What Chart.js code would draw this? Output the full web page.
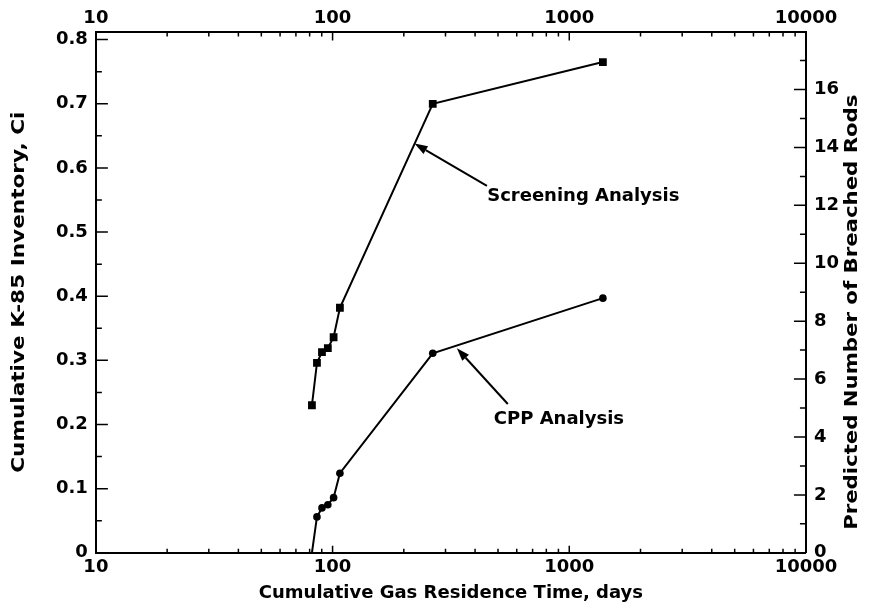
<!DOCTYPE html>
<html>
<head>
<meta charset="utf-8">
<script src="https://cdn.jsdelivr.net/npm/chart.js@4/dist/chart.umd.min.js"></script>
<style>
  html, body { margin: 0; padding: 0; background: #fff; }
  #wrap { width: 871px; height: 609px; }
</style>
</head>
<body>
<div id="wrap"><canvas id="c" width="871" height="609"></canvas></div>
<script>
// ---- data ----
const days = [81.8, 85.9, 90.2, 95.5, 101, 107.4, 265, 1387];
const screening = [0.230, 0.296, 0.313, 0.319, 0.336, 0.382, 0.700, 0.765];
const cpp = [0, 0.056, 0.070, 0.075, 0.086, 0.124, 0.311, 0.397];

const xTickLabels = [10, 100, 1000, 10000];
const leftTickLabels = [0, 0.1, 0.2, 0.3, 0.4, 0.5, 0.6, 0.7, 0.8];
const rightTickLabels = [0, 2, 4, 6, 8, 10, 12, 14, 16];

const xTitle = 'Cumulative Gas Residence Time, days';
const leftTitle = 'Cumulative K-85 Inventory, Ci';
const rightTitle = 'Predicted Number of Breached Rods';

// annotations (data coordinates)
const annScreen = { text: 'Screening Analysis', textAt: [450, 0.556], from: [449, 0.572], tip: [222, 0.638] };
const annCpp = { text: 'CPP Analysis', textAt: [480, 0.208], from: [550, 0.232], tip: [335, 0.319] };

const FONT = '"DejaVu Sans", "Liberation Sans", sans-serif';
const tickFont = { family: FONT, size: 18, weight: 'bold' };
const titleFont = { family: FONT, size: 18, weight: 'bold' };

function drawVerticalText(ctx, text, cx, cy, stretch) {
  ctx.save();
  ctx.fillStyle = '#000';
  ctx.font = 'bold 18px ' + FONT;
  ctx.translate(cx, cy);
  ctx.rotate(-Math.PI / 2);
  ctx.scale(stretch, 1);
  ctx.textAlign = 'center';
  ctx.textBaseline = 'middle';
  ctx.fillText(text, 0, 0);
  ctx.restore();
}

const inwardTicks = {
  id: 'inwardTicks',
  afterDraw(chart) {
    const ctx = chart.ctx;
    const a = chart.chartArea;
    const x = chart.scales.x, y = chart.scales.y, y2 = chart.scales.y2;
    ctx.save();
    ctx.strokeStyle = '#000';
    ctx.lineWidth = 1.5;
    ctx.beginPath();
    for (let e = 1; e <= 3; e++) {
      for (let m = 1; m <= 9; m++) {
        const v = m * Math.pow(10, e);
        const px = x.getPixelForValue(v);
        const major = m === 1;
        ctx.moveTo(px, a.bottom); ctx.lineTo(px, a.bottom - (major ? 7 : 4));
        ctx.moveTo(px, a.top); ctx.lineTo(px, a.top + (major ? 9 : 5));
      }
    }
    for (let i = 0; i <= 16; i++) {
      const py = y.getPixelForValue(i * 0.05);
      const major = i % 2 === 0;
      ctx.moveTo(a.left, py); ctx.lineTo(a.left + (major ? 12 : 6), py);
    }
    for (let i = 0; i <= 17; i++) {
      const py = y2.getPixelForValue(i);
      const major = i % 2 === 0;
      ctx.moveTo(a.right, py); ctx.lineTo(a.right - (major ? 12 : 6), py);
    }
    ctx.stroke();
    ctx.restore();

    drawVerticalText(ctx, leftTitle, 19, (a.top + a.bottom) / 2, 1.2);
    drawVerticalText(ctx, rightTitle, 852, (a.top + a.bottom) / 2 + 20, 1.18);

    const drawAnn = (ann) => {
      const tx = x.getPixelForValue(ann.textAt[0]), ty = y.getPixelForValue(ann.textAt[1]);
      const fx = x.getPixelForValue(ann.from[0]), fy = y.getPixelForValue(ann.from[1]);
      const px = x.getPixelForValue(ann.tip[0]), py = y.getPixelForValue(ann.tip[1]);
      ctx.save();
      ctx.fillStyle = '#000';
      ctx.strokeStyle = '#000';
      ctx.font = 'bold 18px ' + FONT;
      ctx.textAlign = 'left';
      ctx.textBaseline = 'middle';
      ctx.fillText(ann.text, tx, ty);
      const ang = Math.atan2(py - fy, px - fx);
      const hl = 13, hw = 4.5;
      const bx = px - hl * Math.cos(ang), by = py - hl * Math.sin(ang);
      ctx.lineWidth = 2;
      ctx.beginPath();
      ctx.moveTo(fx, fy); ctx.lineTo(bx, by);
      ctx.stroke();
      ctx.beginPath();
      ctx.moveTo(px, py);
      ctx.lineTo(bx + hw * Math.sin(ang), by - hw * Math.cos(ang));
      ctx.lineTo(bx - hw * Math.sin(ang), by + hw * Math.cos(ang));
      ctx.closePath();
      ctx.fill();
      ctx.restore();
    };
    drawAnn(annScreen);
    drawAnn(annCpp);
  }
};

const xAxisBase = (pos, pad) => ({
  type: 'logarithmic',
  position: pos,
  min: 10, max: 10000,
  grid: { display: false, drawTicks: false },
  border: { display: true, color: '#000', width: 2 },
  afterBuildTicks: (s) => { s.ticks = xTickLabels.map(v => ({ value: v })); },
  ticks: { color: '#000', font: tickFont, padding: pad, maxRotation: 0, autoSkip: false,
           callback: (v) => String(v) }
});

new Chart(document.getElementById('c'), {
  type: 'line',
  data: {
    datasets: [
      {
        label: 'Screening Analysis',
        data: days.map((d, i) => ({ x: d, y: screening[i] })),
        borderColor: '#000', backgroundColor: '#000', borderWidth: 2,
        pointStyle: 'rect', pointRadius: 5.5, pointBorderWidth: 0,
        tension: 0, yAxisID: 'y', xAxisID: 'x'
      },
      {
        label: 'CPP Analysis',
        data: days.map((d, i) => ({ x: d, y: cpp[i] })),
        borderColor: '#000', backgroundColor: '#000', borderWidth: 2,
        pointStyle: 'circle', pointRadius: [0, 3.8, 3.8, 3.8, 3.8, 3.8, 3.8, 3.8], pointBorderWidth: 0,
        tension: 0, yAxisID: 'y', xAxisID: 'x'
      }
    ]
  },
  options: {
    responsive: false,
    animation: false,
    layout: { padding: { left: 48, right: 24, top: 6, bottom: 5 } },
    plugins: { legend: { display: false }, tooltip: { enabled: false } },
    scales: {
      x: Object.assign(xAxisBase('bottom', 4), {
        title: { display: true, text: xTitle, color: '#000', font: titleFont, padding: { top: 0, bottom: 0 } }
      }),
      x2: xAxisBase('top', 2),
      y: {
        type: 'linear', position: 'left',
        min: 0, max: 0.8125,
        grid: { display: false, drawTicks: false },
        border: { display: true, color: '#000', width: 2 },
        afterBuildTicks: (s) => { s.ticks = leftTickLabels.map(v => ({ value: v })); },
        ticks: { color: '#000', font: tickFont, padding: 8, autoSkip: false,
                 callback: (v) => v === 0 ? '0' : Number(v).toFixed(1) }
      },
      y2: {
        type: 'linear', position: 'right',
        min: 0, max: 18,
        grid: { display: false, drawTicks: false },
        border: { display: true, color: '#000', width: 2 },
        afterBuildTicks: (s) => { s.ticks = rightTickLabels.map(v => ({ value: v })); },
        ticks: { color: '#000', font: tickFont, padding: 8, autoSkip: false,
                 callback: (v) => String(v) }
      }
    }
  },
  plugins: [inwardTicks]
});
</script>
</body>
</html>
